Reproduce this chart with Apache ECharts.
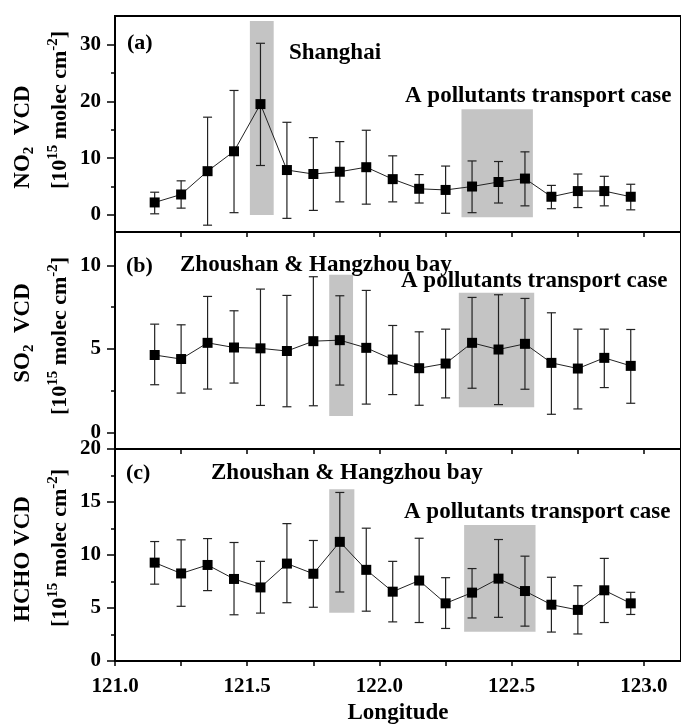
<!DOCTYPE html>
<html>
<head>
<meta charset="utf-8">
<script src="https://cdn.jsdelivr.net/npm/echarts@6/dist/echarts.min.js"></script>
<style>html,body{margin:0;padding:0;background:#fff}#c{width:681px;height:726px}</style>
</head>
<body>
<div id="c"></div>
<script>
// ---- data ----
const lon = [121.15, 121.25, 121.35, 121.45, 121.55, 121.65, 121.75, 121.85, 121.95, 122.05,
             122.15, 122.25, 122.35, 122.45, 122.55, 122.65, 122.75, 122.85, 122.95];

const no2     = [2.2, 3.6, 7.7, 11.2, 19.5, 7.9, 7.2, 7.6, 8.4, 6.3, 4.6, 4.4, 5.0, 5.8, 6.4, 3.2, 4.2, 4.2, 3.2];
const no2Low  = [0.2, 1.2, -1.8, 0.4, 8.7, -0.6, 0.8, 2.3, 1.9, 2.3, 2.1, 0.3, 0.4, 2.1, 1.6, 1.1, 1.3, 1.6, 0.9];
const no2High = [4.0, 6.0, 17.2, 21.9, 30.2, 16.3, 13.6, 12.9, 14.9, 10.4, 7.1, 8.6, 9.5, 9.4, 11.1, 5.2, 7.2, 6.8, 5.4];

const so2     = [4.63, 4.39, 5.36, 5.08, 5.03, 4.87, 5.46, 5.52, 5.06, 4.36, 3.84, 4.12, 5.36, 4.96, 5.30, 4.16, 3.82, 4.46, 3.98];
const so2Low  = [2.85, 2.35, 2.59, 2.95, 1.61, 1.53, 1.59, 2.83, 1.69, 2.26, 1.62, 2.06, 2.64, 1.66, 2.58, 1.08, 1.40, 2.68, 1.74];
const so2High = [6.48, 6.44, 8.14, 7.28, 8.58, 8.20, 9.32, 8.18, 8.50, 6.40, 6.02, 6.18, 8.08, 8.24, 8.02, 7.16, 6.18, 6.18, 6.16];

const hcho     = [9.28, 8.26, 9.06, 7.74, 6.94, 9.19, 8.23, 11.24, 8.60, 6.54, 7.59, 5.44, 6.45, 7.77, 6.60, 5.31, 4.82, 6.67, 5.44];
const hchoLow  = [7.25, 5.16, 6.64, 4.36, 4.52, 5.50, 5.07, 6.51, 4.70, 3.69, 3.63, 3.07, 4.06, 4.12, 3.29, 2.73, 2.55, 3.63, 4.39];
const hchoHigh = [11.27, 11.43, 11.55, 11.18, 9.40, 12.96, 11.37, 15.90, 12.53, 9.40, 11.58, 7.86, 8.72, 11.46, 9.89, 7.90, 7.10, 9.68, 6.48];

// shaded regions: [lonStart, lonEnd, yBottom, yTop]
const no2Boxes  = [[121.51, 121.60, 0, 34.1], [122.31, 122.58, -0.4, 18.6]];
const so2Boxes  = [[121.81, 121.90, 0.97, 9.44], [122.30, 122.585, 1.5, 8.36]];
const hchoBoxes = [[121.81, 121.905, 4.55, 16.2], [122.32, 122.59, 2.76, 12.84]];

// ticks
const xTickValues  = [121.0, 121.25, 121.5, 121.75, 122.0, 122.25, 122.5, 122.75, 123.0];
const xLabelValues = [121.0, 121.5, 122.0, 122.5, 123.0];
const no2Major  = [0, 10, 20, 30];
const no2Minor  = [5, 15, 25];
const so2Major  = [0, 5, 10];
const so2Minor  = [2.5, 7.5];
const hchoMajor = [0, 5, 10, 15, 20];
const hchoMinor = [2.5, 7.5, 12.5, 17.5];

// ---- chart ----
const FONT = '"Liberation Serif", "Times New Roman", serif';
const chart = echarts.init(document.getElementById('c'), null, {renderer: 'canvas'});

const gridsPx = [
  {top: 16, height: 216},
  {top: 232, height: 217},
  {top: 449, height: 217}
];
const yRanges = [[-3, 35], [-1, 12], [0, 20]];
const majors = [no2Major, so2Major, hchoMajor];
const minors = [no2Minor, so2Minor, hchoMinor];
const values = [no2, so2, hcho];
const lows = [no2Low, so2Low, hchoLow];
const highs = [no2High, so2High, hchoHigh];
const boxes = [no2Boxes, so2Boxes, hchoBoxes];

const grid = gridsPx.map(g => ({left: 115, right: 0, top: g.top, height: g.height,
  show: true, borderColor: '#000', borderWidth: 2, backgroundColor: 'transparent'}));

const xAxis = [0, 1, 2].map(i => ({
  type: 'value', gridIndex: i, min: 121, max: 123.14,
  axisLine: {show: true, onZero: false, lineStyle: {color: '#000', width: 2}},
  axisTick: {show: true, customValues: xTickValues, length: 5, lineStyle: {color: '#000', width: 1.5}},
  axisLabel: {show: i === 2, customValues: xLabelValues, formatter: v => v.toFixed(1),
    fontFamily: FONT, fontSize: 21, fontWeight: 'bold', color: '#000', margin: 15},
  splitLine: {show: false},
  name: i === 2 ? 'Longitude' : '',
  nameLocation: 'middle', nameGap: 41,
  nameTextStyle: {fontFamily: FONT, fontSize: 23, fontWeight: 'bold', color: '#000'}
}));

const yAxis = [];
[0, 1, 2].forEach(i => {
  yAxis.push({
    type: 'value', gridIndex: i, min: yRanges[i][0], max: yRanges[i][1],
    axisLine: {show: true, onZero: false, lineStyle: {color: '#000', width: 2}},
    axisTick: {show: true, customValues: majors[i], length: 8, lineStyle: {color: '#000', width: 1.5}},
    axisLabel: {show: true, customValues: majors[i], fontFamily: FONT, fontSize: 21, fontWeight: 'bold', color: '#000', margin: 14},
    splitLine: {show: false}
  });
  yAxis.push({
    type: 'value', gridIndex: i, min: yRanges[i][0], max: yRanges[i][1], position: 'left',
    axisLine: {show: false},
    axisTick: {show: true, customValues: minors[i], length: 4, lineStyle: {color: '#000', width: 1.5}},
    axisLabel: {show: false, customValues: minors[i]},
    splitLine: {show: false}
  });
});

const series = [];
[0, 1, 2].forEach(i => {
  series.push({
    type: 'custom', xAxisIndex: i, yAxisIndex: 2 * i, z: 1, silent: true,
    data: boxes[i],
    renderItem: (params, api) => {
      const p1 = api.coord([api.value(0), api.value(3)]);
      const p2 = api.coord([api.value(1), api.value(2)]);
      return {type: 'rect', shape: {x: p1[0], y: p1[1], width: p2[0] - p1[0], height: p2[1] - p1[1]},
        style: {fill: '#c4c4c4'}};
    }
  });
  series.push({
    type: 'custom', xAxisIndex: i, yAxisIndex: 2 * i, z: 3, silent: true,
    data: lon.map((x, j) => [x, lows[i][j], highs[i][j]]),
    renderItem: (params, api) => {
      const lo = api.coord([api.value(0), api.value(1)]);
      const hi = api.coord([api.value(0), api.value(2)]);
      const w = 4.5;
      const st = {stroke: '#222', lineWidth: 1.2};
      return {type: 'group', children: [
        {type: 'line', shape: {x1: lo[0], y1: lo[1], x2: hi[0], y2: hi[1]}, style: st},
        {type: 'line', shape: {x1: lo[0] - w, y1: lo[1], x2: lo[0] + w, y2: lo[1]}, style: st},
        {type: 'line', shape: {x1: hi[0] - w, y1: hi[1], x2: hi[0] + w, y2: hi[1]}, style: st}
      ]};
    }
  });
  series.push({
    type: 'line', xAxisIndex: i, yAxisIndex: 2 * i, z: 4,
    data: lon.map((x, j) => [x, values[i][j]]),
    symbol: 'rect', symbolSize: 10, showSymbol: true,
    itemStyle: {color: '#000'},
    lineStyle: {color: '#222', width: 1}
  });
});

const supSub = {
  n: {fontFamily: FONT, fontSize: 23, fontWeight: 'bold', fill: '#000', lineHeight: 28},
  m: {fontFamily: FONT, fontSize: 22, fontWeight: 'bold', fill: '#000', lineHeight: 28},
  sub: {fontFamily: FONT, fontSize: 15, fontWeight: 'bold', fill: '#000', verticalAlign: 'bottom', lineHeight: 28},
  sup: {fontFamily: FONT, fontSize: 15, fontWeight: 'bold', fill: '#000', verticalAlign: 'top', lineHeight: 28}
};
function vText(x, y, text) {
  return {type: 'text', x: x, y: y, rotation: Math.PI / 2, silent: true,
    style: {text: text, rich: supSub, align: 'center', verticalAlign: 'middle',
      fontFamily: FONT, fontSize: 22, fontWeight: 'bold', fill: '#000'}};
}
function hText(x, y, text, size) {
  return {type: 'text', x: x, y: y, silent: true,
    style: {text: text, align: 'left', verticalAlign: 'middle',
      fontFamily: FONT, fontSize: size, fontWeight: 'bold', fill: '#000'}};
}

const graphic = [
  vText(23, 137, '{n|NO}{sub|2}{n|  VCD}'),
  vText(60, 110, '{m|[10}{sup|15}{m| molec cm}{sup|-2}{m|]}'),
  vText(23, 333, '{n|SO}{sub|2}{n|  VCD}'),
  vText(60, 336, '{m|[10}{sup|15}{m| molec cm}{sup|-2}{m|]}'),
  vText(23, 559, '{n|HCHO VCD}'),
  vText(60, 548, '{m|[10}{sup|15}{m| molec cm}{sup|-2}{m|]}'),
  hText(127, 43, '(a)', 22),
  hText(289, 53, 'Shanghai', 23),
  hText(405, 96, 'A pollutants transport case', 23),
  hText(126, 266, '(b)', 22),
  hText(180, 265, 'Zhoushan & Hangzhou bay', 23),
  hText(401, 281, 'A pollutants transport case', 23),
  hText(126, 473, '(c)', 22),
  hText(211, 473, 'Zhoushan & Hangzhou bay', 23),
  hText(404, 512, 'A pollutants transport case', 23)
];

chart.setOption({
  animation: false,
  backgroundColor: '#fff',
  grid: grid,
  xAxis: xAxis,
  yAxis: yAxis,
  series: series,
  graphic: graphic
});
</script>
</body>
</html>
